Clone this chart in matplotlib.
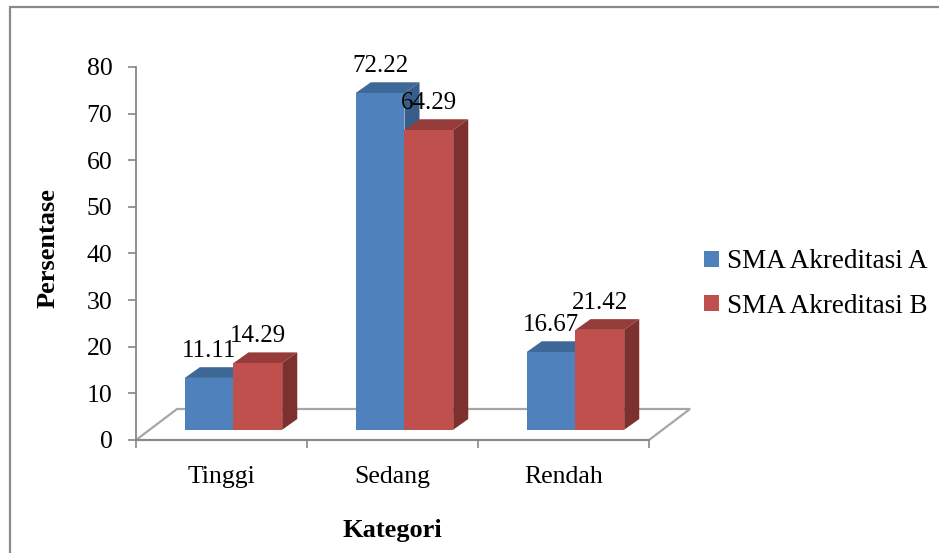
import matplotlib
matplotlib.use("Agg")
import matplotlib.pyplot as plt
import numpy as np
from matplotlib.patches import Polygon, Rectangle

# ---------------------------------------------------------------------------
# Data
# ---------------------------------------------------------------------------

categories = ["Tinggi", "Sedang", "Rendah"]
akreditasi_a = [11.11, 72.22, 16.67]
akreditasi_b = [14.29, 64.29, 21.42]
series_labels = ["SMA Akreditasi A", "SMA Akreditasi B"]
yticks = [0, 10, 20, 30, 40, 50, 60, 70, 80]

# ---------------------------------------------------------------------------
# Style
# ---------------------------------------------------------------------------

plt.rcParams["font.family"] = ["Liberation Serif", "DejaVu Serif"]

FRONT = ["#4F81BD", "#C0504D"]
TOP = ["#3E6898", "#963C3A"]
SIDE = ["#385D8A", "#7D302E"]
GREY = "#868686"

# fake 3-D (Excel look): bar plane sits a little behind the axis plane
BASE = 2.2                  # lift of the bar plane, data units
DX, DY = 0.088, 2.3         # depth of each bar
FLOOR_DX, FLOOR_DY = 0.24, 6.65
BAR_W = 0.285
OFFSET = -0.215

fig = plt.figure(figsize=(9.39, 5.53), dpi=100)
ax = fig.add_axes([136 / 939, 113 / 553, 513 / 939, 373 / 553])
ax.set_xlim(-0.5, 2.5)
ax.set_ylim(0, 80)

# floor
floor = Polygon([(-0.5, 0), (2.5, 0), (2.5 + FLOOR_DX, FLOOR_DY), (-0.5 + FLOOR_DX, FLOOR_DY)],
                closed=True, fc="white", ec="#a6a6a6", lw=1.6, clip_on=False, zorder=1)
ax.add_patch(floor)

x = np.arange(len(categories))
legend_handles = []
for i, vals in enumerate([akreditasi_a, akreditasi_b]):
    z = 3 + 3 * i
    bars = ax.bar(x + OFFSET + i * BAR_W, vals, width=BAR_W, bottom=BASE, align="edge",
                  color=FRONT[i], zorder=z + 1, label=series_labels[i])
    legend_handles.append(bars)
    for rect, v in zip(bars, vals):
        x0 = rect.get_x()
        x1 = x0 + rect.get_width()
        y0 = rect.get_y()
        y1 = y0 + rect.get_height()
        ax.add_patch(Polygon([(x0, y1), (x1, y1), (x1 + DX, y1 + DY), (x0 + DX, y1 + DY)],
                             closed=True, fc=TOP[i], ec="none", zorder=z))
        ax.add_patch(Polygon([(x1, y0), (x1, y1), (x1 + DX, y1 + DY), (x1 + DX, y0 + DY)],
                             closed=True, fc=SIDE[i], ec="none", zorder=z))
        ax.text((x0 + x1) / 2, y1 + DY + 1.2, f"{v:.2f}", ha="center", va="bottom",
                fontsize=18, zorder=20)

# axes
for side in ["top", "right"]:
    ax.spines[side].set_visible(False)
for side in ["left", "bottom"]:
    ax.spines[side].set_color(GREY)
    ax.spines[side].set_linewidth(1.3)
    ax.spines[side].set_zorder(2)

ax.set_yticks(yticks)
ax.tick_params(axis="y", direction="out", length=6, width=1.2, color=GREY,
               labelsize=18.5, pad=11)
ax.set_xticks([-0.5, 0.5, 1.5, 2.5])
ax.set_xticklabels([])
ax.tick_params(axis="x", which="major", direction="out", length=6, width=1.2, color=GREY)
ax.set_xticks(x, minor=True)
ax.set_xticklabels(categories, minor=True)
ax.tick_params(axis="x", which="minor", length=0, labelsize=18.5, pad=19)

fig.text(48 / 939, 1 - 248 / 553, "Persentase", rotation=90, ha="center", va="center",
         fontsize=19, fontweight="bold")
fig.text(392 / 939, 1 - 530 / 553, "Kategori", ha="center", va="center",
         fontsize=19, fontweight="bold")

ax.legend(handles=legend_handles, loc="center left", bbox_to_anchor=(704 / 939, 1 - 284 / 553),
          bbox_transform=fig.transFigure, frameon=False, fontsize=19.5,
          handlelength=0.55, handleheight=0.55, handletextpad=0.3, labelspacing=0.72,
          borderpad=0, borderaxespad=0)

# chart border (cut off at right and bottom)
fig.add_artist(Rectangle((10 / 939, -0.5), 2, 0.5 + 1 - 7 / 553, transform=fig.transFigure,
                         fill=False, ec="#8a8a8a", lw=1.6))

fig.savefig("out.png", dpi=100)
